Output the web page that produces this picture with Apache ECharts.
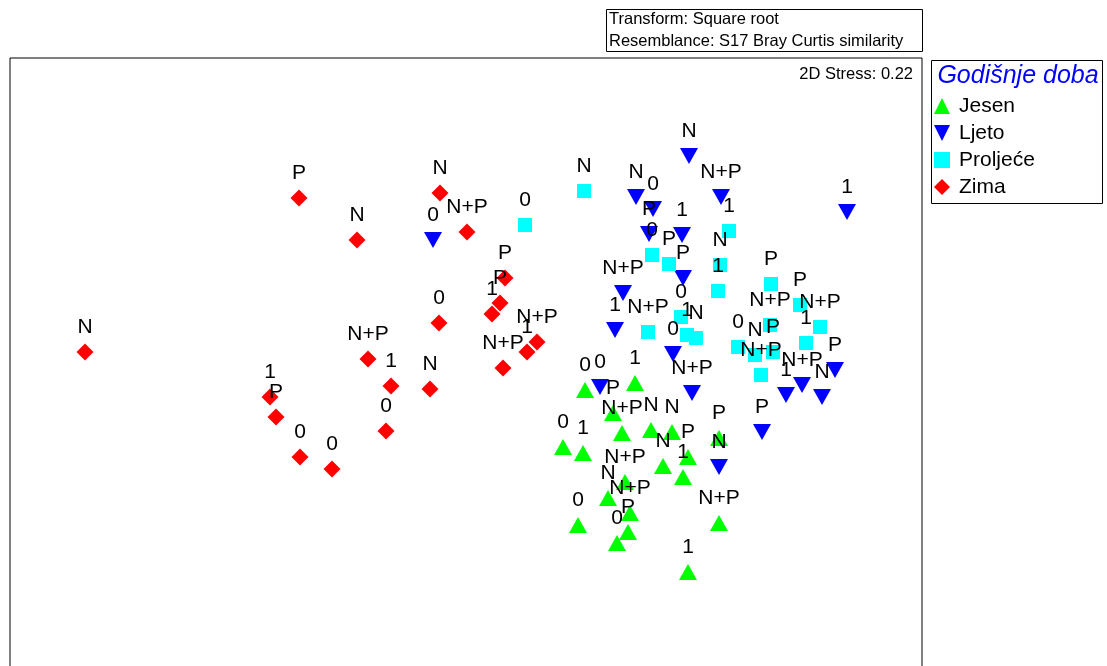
<!DOCTYPE html>
<html>
<head>
<meta charset="utf-8">
<script src="https://cdn.jsdelivr.net/npm/echarts@6/dist/echarts.min.js"></script>
<style>html,body{margin:0;padding:0;background:#fff;overflow:hidden}#c{width:1107px;height:720px}</style>
</head>
<body>
<div id="c"></div>
<script>
// MDS coordinates (MDS1, MDS2) with sample labels
const seasons = ['Jesen', 'Ljeto', 'Proljeće', 'Zima'];

const jesenX = [0.97, 1.17, 1.56, 1.85, 2.06, 1.97, 2.22, 2.17, 1.59, 1.42, 1.64, 1.62, 1.12, 1.51, 2.53, 2.22, 2.53, 1.19, 1.69, 1.47];
const jesenY = [-0.79, -0.85, -0.65, -0.62, -0.64, -0.98, -0.89, -1.09, -1.14, -1.30, -1.45, -1.64, -1.57, -1.75, -1.55, -2.04, -0.70, -0.22, -0.15, -0.45];
const jesenLab = ['0', '1', 'N+P', 'N', 'N', 'N', 'P', '1', 'N+P', 'N', 'N+P', 'P', '0', '0', 'N+P', '1', 'P', '0', '1', 'P'];

const ljetoX = [2.23, 1.70, 1.87, 1.83, 2.16, 2.55, 3.81, 1.57, 2.17, 1.49, 2.07, 2.26, 1.34, 2.96, 2.53, 3.69, 3.36, 3.20, 3.56, -0.33];
const ljetoY = [2.12, 1.71, 1.59, 1.34, 1.33, 1.71, 1.56, 0.75, 0.90, 0.38, 0.14, -0.25, -0.19, -0.64, -0.99, -0.02, -0.17, -0.27, -0.29, 1.28];
const ljetoLab = ['N', 'N', '0', 'P', '1', 'N+P', '1', 'N+P', 'P', '1', '0', 'N+P', '0', 'P', 'N', 'P', 'N+P', '1', 'N', '0'];

const proljeceX = [1.18, 0.59, 2.63, 1.86, 2.03, 2.54, 2.52, 3.05, 3.34, 1.82, 2.15, 2.21, 2.30, 3.04, 3.07, 2.89, 2.72, 2.95, 3.54, 3.40];
const proljeceY = [1.77, 1.43, 1.37, 1.13, 1.04, 1.03, 0.77, 0.84, 0.63, 0.36, 0.51, 0.33, 0.30, 0.43, 0.16, 0.13, 0.21, -0.07, 0.41, 0.25];
const proljeceLab = ['N', '0', '1', '0', 'P', 'N', '1', 'P', 'P', 'N+P', '0', '1', 'N', 'N+P', 'P', 'N', '0', 'N+P', 'N+P', '1'];

const zimaX = [-3.81, -1.67, -1.09, -0.26, 0.01, 0.39, 0.34, 0.26, -0.27, 0.71, 0.61, 0.37, -0.98, -0.75, -0.36, -0.80, -1.96, -1.90, -1.66, -1.34];
const zimaY = [0.16, 1.70, 1.28, 1.75, 1.36, 0.90, 0.65, 0.54, 0.45, 0.26, 0.16, 0.00, 0.09, -0.18, -0.21, -0.63, -0.29, -0.49, -0.89, -1.01];
const zimaLab = ['N', 'P', 'N', 'N', 'N+P', 'P', 'P', '1', '0', 'N+P', '1', 'N+P', 'N+P', '1', 'N', '0', '1', 'P', '0', '0'];

const xRange = [-4.56, 4.56];
const yRange = [-3.20, 3.10];

const FONT = '"Liberation Sans", Arial, sans-serif';

function pts(xs, ys, labs) {
  return xs.map((x, i) => ({ value: [x, ys[i]], name: labs[i] }));
}

function mkSeries(name, xs, ys, labs, symbol, size, color, rotate, dist) {
  return {
    name: name,
    type: 'scatter',
    data: pts(xs, ys, labs),
    symbol: symbol,
    symbolSize: size,
    symbolRotate: rotate,
    itemStyle: { color: color, opacity: 1 },
    label: {
      show: true,
      position: 'top',
      distance: dist,
      formatter: '{b}',
      color: '#000',
      fontSize: 21,
      lineHeight: 21,
      fontFamily: FONT
    },
    emphasis: { disabled: true },
    animation: false
  };
}

const chart = echarts.init(document.getElementById('c'), null, { renderer: 'canvas' });
chart.setOption({
  backgroundColor: '#fff',
  animation: false,
  grid: { left: 10, top: 58, width: 912, height: 630, show: true, borderColor: '#000', borderWidth: 1, backgroundColor: 'transparent' },
  xAxis: { type: 'value', min: xRange[0], max: xRange[1], show: false },
  yAxis: { type: 'value', min: yRange[0], max: yRange[1], show: false },
  legend: {
    orient: 'vertical',
    left: 934,
    top: 95.5,
    padding: 0,
    itemWidth: 16,
    itemHeight: 16,
    itemGap: 6,
    textStyle: { fontSize: 21, lineHeight: 21, fontFamily: FONT, color: '#000', padding: [0, 0, 0, 4] },
    data: [
      { name: 'Jesen', icon: 'path://M1,0L2,2L0,2Z' },
      { name: 'Ljeto', icon: 'path://M0,0L2,0L1,2Z' },
      { name: 'Proljeće', icon: 'rect' },
      { name: 'Zima', icon: 'diamond' }
    ],
    selectedMode: false
  },
  graphic: [
    { type: 'rect', shape: { x: 606.5, y: 9.5, width: 316, height: 42 }, style: { fill: '#fff', stroke: '#000', lineWidth: 1 } },
    { type: 'text', x: 609, y: 19, style: { text: 'Transform: Square root', font: '16.5px ' + FONT, fill: '#000', textVerticalAlign: 'middle' } },
    { type: 'text', x: 609, y: 41, style: { text: 'Resemblance: S17 Bray Curtis similarity', font: '16.5px ' + FONT, fill: '#000', textVerticalAlign: 'middle' } },
    { type: 'text', x: 913, y: 74, style: { text: '2D Stress: 0.22', font: '16.5px ' + FONT, fill: '#000', textAlign: 'right', textVerticalAlign: 'middle' } },
    { type: 'rect', shape: { x: 931.5, y: 60.5, width: 171, height: 143 }, style: { fill: 'transparent', stroke: '#000', lineWidth: 1 }, z: 0 },
    { type: 'text', x: 1018, y: 76, style: { text: 'Godišnje doba', font: 'italic 25px ' + FONT, fill: '#0000ff', textAlign: 'center', textVerticalAlign: 'middle' } }
  ],
  series: [
    mkSeries('Jesen', jesenX, jesenY, jesenLab, 'triangle', [18, 16], '#00ff00', 0, 6.5),
    mkSeries('Ljeto', ljetoX, ljetoY, ljetoLab, 'triangle', [18, 16], '#0000ff', 180, 6.5),
    mkSeries('Proljeće', proljeceX, proljeceY, proljeceLab, 'rect', [14, 14], '#00ffff', 0, 7.5),
    mkSeries('Zima', zimaX, zimaY, zimaLab, 'diamond', [17, 17], '#ff0000', 0, 6)
  ]
});
</script>
</body>
</html>
